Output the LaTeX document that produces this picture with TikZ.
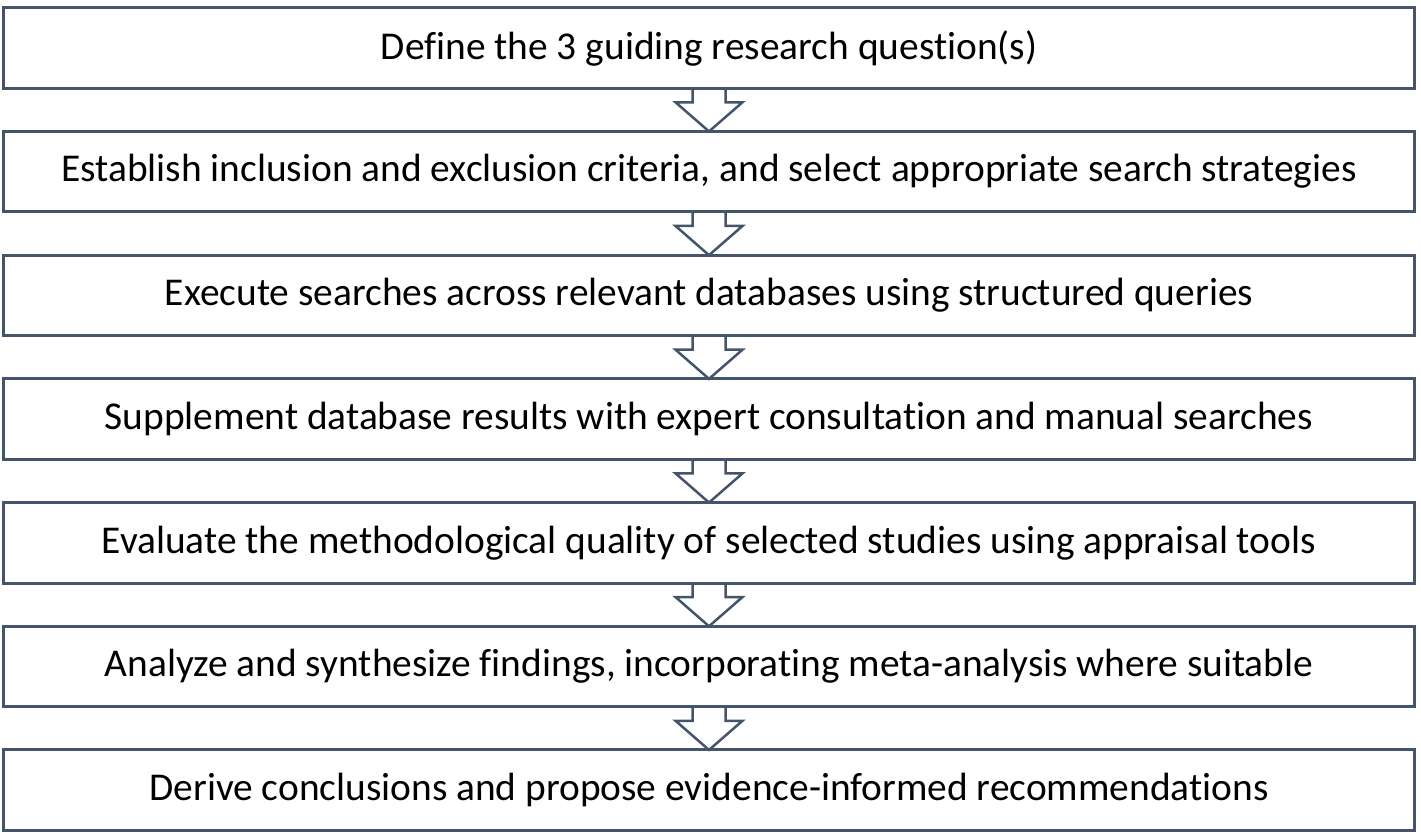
\documentclass[tikz,border=0pt]{standalone}
\usepackage{fontspec}
\setmainfont[Ligatures=NoCommon]{Carlito}
\usetikzlibrary{positioning,calc}
\definecolor{slate}{HTML}{44546A}

\begin{document}
\begin{tikzpicture}[x=1pt,y=-1pt,
	stepbox/.style={draw=slate,line width=3pt,minimum width=1411pt,minimum height=80.5pt,
		inner sep=0pt,outer sep=0pt,font=\fontsize{39.4}{47}\selectfont},
	blockarrow/.style={draw=slate,line width=2.5pt,line join=miter}]
	\useasboundingbox (0,0) rectangle (1421,833);
	\node[stepbox] (s1) at (709,48) {Define the 3 guiding research question(s)};
	\node[stepbox,below=43.2pt of s1] (s2) {Establish inclusion and exclusion criteria, and select appropriate search strategies};
	\node[stepbox,below=43.2pt of s2] (s3) {Execute searches across relevant databases using structured queries};
	\node[stepbox,below=43.2pt of s3] (s4) {Supplement database results with expert consultation and manual searches};
	\node[stepbox,below=43.2pt of s4] (s5) {Evaluate the methodological quality of selected studies using appraisal tools};
	\node[stepbox,below=43.2pt of s5] (s6) {Analyze and synthesize findings, incorporating meta-analysis where suitable};
	\node[stepbox,below=43.2pt of s6] (s7) {Derive conclusions and propose evidence-informed recommendations};
	\foreach \a/\b in {s1/s2,s2/s3,s3/s4,s4/s5,s5/s6,s6/s7}
		\draw[blockarrow] ($(\a.south)+(-16.5,0)$) -- ($(\a.south)+(-16.5,14)$)
			-- ($(\a.south)+(-33.5,14)$) -- (\b.north) -- ($(\a.south)+(33.5,14)$)
			-- ($(\a.south)+(16.5,14)$) -- ($(\a.south)+(16.5,0)$);
\end{tikzpicture}
\end{document}
